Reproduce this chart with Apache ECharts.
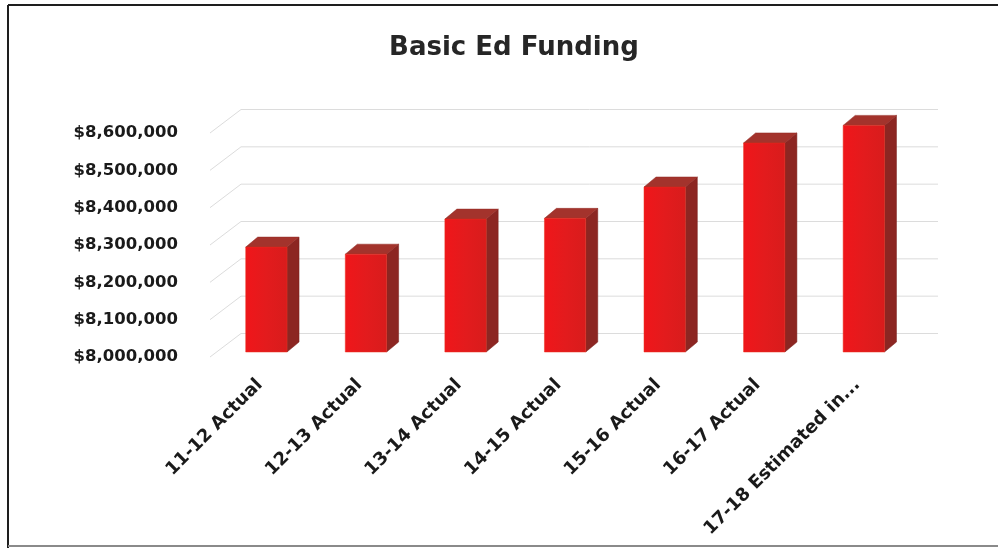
<!DOCTYPE html>
<html>
<head>
<meta charset="utf-8">
<script src="https://cdn.jsdelivr.net/npm/echarts@6/dist/echarts.min.js"></script>
<style>html,body{margin:0;padding:0;background:#fff;}#c{width:998px;height:548px;}</style>
</head>
<body>
<div id="c"></div>
<script>
var categories = ['11-12 Actual', '12-13 Actual', '13-14 Actual', '14-15 Actual', '15-16 Actual', '16-17 Actual', '17-18 Estimated in...'];
var funding = [8281000, 8262000, 8356000, 8358000, 8442000, 8560000, 8607000];
var yTicks = [8000000, 8100000, 8200000, 8300000, 8400000, 8500000, 8600000];
var titleText = 'Basic Ed Funding';

// 3D look parameters (pixels)
var WALL_DX = 31, WALL_DY = -23.5;   // depth of the chart floor
var FACE_DX = 6.6, FACE_DY = -5;     // bar front face offset behind the front plane
var BAR_DX = 12, BAR_DY = -10;       // bar depth
var BAR_FRAC = 0.415;

function fmt(v) { return '$' + v.toString().replace(/\B(?=(\d{3})+(?!\d))/g, ','); }

var chart = echarts.init(document.getElementById('c'), null, {renderer: 'canvas'});

function renderWall(params, api) {
  var cs = params.coordSys;
  var y = api.coord([0, api.value(1)])[1];
  var x0 = cs.x, x1 = cs.x + cs.width;
  var style = {stroke: '#dcdcdc', lineWidth: 1, fill: null};
  return {
    type: 'group',
    silent: true,
    children: [
      {type: 'line', shape: {x1: x0, y1: y, x2: x0 + WALL_DX, y2: y + WALL_DY}, style: style},
      {type: 'line', shape: {x1: x0 + WALL_DX, y1: y + WALL_DY, x2: x1 + WALL_DX, y2: y + WALL_DY}, style: style}
    ]
  };
}

function renderBar(params, api) {
  var idx = api.value(0);
  var top = api.coord([idx, api.value(1)]);
  var base = api.coord([idx, yTicks[0]]);
  var band = api.size([1, 0])[0];
  var w = band * BAR_FRAC;
  var x0 = top[0] + FACE_DX - w / 2, x1 = x0 + w;
  var yt = top[1] + FACE_DY, yb = base[1] + FACE_DY;
  return {
    type: 'group',
    children: [
      {type: 'polygon', shape: {points: [[x1, yt], [x1 + BAR_DX, yt + BAR_DY], [x1 + BAR_DX, yb + BAR_DY], [x1, yb]]},
        style: {fill: '#8c2622', stroke: '#7a1e1b', lineWidth: 0.5}},
      {type: 'polygon', shape: {points: [[x0, yt], [x0 + BAR_DX, yt + BAR_DY], [x1 + BAR_DX, yt + BAR_DY], [x1, yt]]},
        style: {fill: '#a3332c', stroke: '#932a25', lineWidth: 0.5}},
      {type: 'rect', shape: {x: x0, y: yt, width: w, height: yb - yt},
        style: {fill: new echarts.graphic.LinearGradient(0, 0, 1, 0, [
          {offset: 0, color: '#f0161a'}, {offset: 0.5, color: '#e31b1d'}, {offset: 1, color: '#d81c1c'}]),
          stroke: '#e8301f', lineWidth: 0.5}}
    ]
  };
}

chart.setOption({
  animation: false,
  backgroundColor: '#ffffff',
  title: {
    text: titleText,
    left: 509, top: 30, textAlign: 'center',
    textStyle: {fontFamily: 'DejaVu Sans', fontSize: 26, fontWeight: 'bold', color: '#262626'}
  },
  grid: {left: 210, right: 91, top: 133, bottom: 191},
  xAxis: {
    type: 'category',
    data: categories,
    axisLine: {show: false},
    axisTick: {show: false},
    splitLine: {show: false},
    axisLabel: {
      rotate: 45, margin: 25, interval: 0,
      fontFamily: 'DejaVu Sans', fontWeight: 'bold', fontSize: 18, color: '#1a1a1a'
    }
  },
  yAxis: {
    type: 'value',
    min: yTicks[0], max: yTicks[yTicks.length - 1], interval: 100000,
    axisLine: {show: false},
    axisTick: {show: false},
    splitLine: {show: false},
    axisLabel: {
      margin: 32, formatter: fmt,
      fontFamily: 'DejaVu Sans', fontWeight: 'bold', fontSize: 16.5, color: '#1a1a1a'
    }
  },
  series: [
    {type: 'custom', renderItem: renderWall, data: yTicks.map(function (t) { return [0, t]; }), z: 1, silent: true},
    {type: 'custom', renderItem: renderBar, data: funding.map(function (v, i) { return [i, v]; }), z: 2}
  ],
  graphic: [
    {type: 'line', shape: {x1: 8, y1: 5, x2: 998, y2: 5}, style: {stroke: '#1e1e1e', lineWidth: 2}},
    {type: 'line', shape: {x1: 8, y1: 5, x2: 8, y2: 548}, style: {stroke: '#1e1e1e', lineWidth: 2}},
    {type: 'line', shape: {x1: 8, y1: 546, x2: 998, y2: 546}, style: {stroke: '#8a8a8a', lineWidth: 2}}
  ]
});
</script>
</body>
</html>
